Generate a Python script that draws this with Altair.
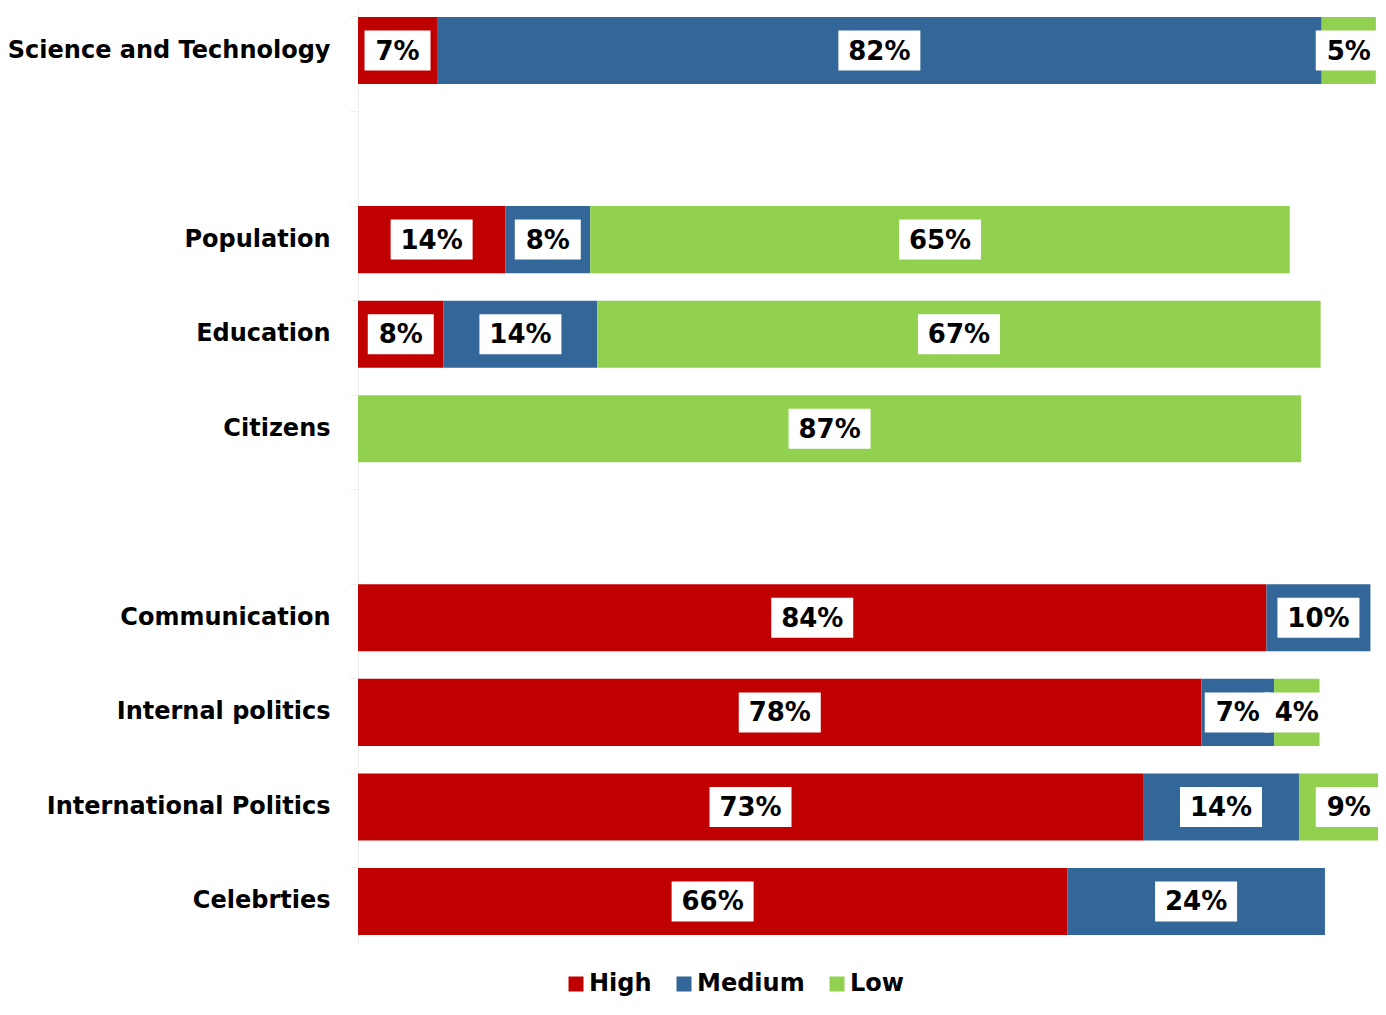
import altair as alt
import pandas as pd

rows = ["Science and Technology", " ", "Population", "Education", "Citizens", "  ",
        "Communication", "Internal politics", "International Politics", "Celebrties"]
categories = ["Science and Technology", "Population", "Education", "Citizens",
              "Communication", "Internal politics", "International Politics", "Celebrties"]
levels = ["High", "Medium", "Low"]
colors = ["#C00000", "#336699", "#92D050"]

high = [7.3, 13.6, 7.9, 0, 83.9, 77.9, 72.5, 65.5]
medium = [81.7, 7.85, 14.2, 0, 9.6, 6.7, 14.4, 23.8]
low = [5.0, 64.6, 66.8, 87.1, 0, 4.2, 9.2, 0]
high_lbl = ["7%", "14%", "8%", "", "84%", "78%", "73%", "66%"]
medium_lbl = ["82%", "8%", "14%", "", "10%", "7%", "14%", "24%"]
low_lbl = ["5%", "65%", "67%", "87%", "", "4%", "9%", ""]

recs = []
for i, c in enumerate(categories):
    for j, (vals, lbls) in enumerate([(high, high_lbl), (medium, medium_lbl), (low, low_lbl)]):
        if vals[i] > 0:
            recs.append({"cat": c, "level": levels[j], "order": j, "value": vals[i],
                         "label": lbls[i], "box": "short" if len(lbls[i]) <= 2 else "long"})
df = pd.DataFrame(recs)

FONT = "DejaVu Sans"
XMAX = 94.2

yenc = alt.Y("cat:N", sort=rows,
             scale=alt.Scale(domain=rows, paddingInner=0.291, paddingOuter=0.095),
             axis=alt.Axis(title=None, labelFont=FONT, labelFontSize=24, labelFontWeight="bold",
                           labelColor="#000000", labelPadding=20, bandPosition=0,
                           tickColor="#eeeeee", tickSize=8, domainColor="#eeeeee",
                           labelLimit=400, minExtent=350, maxExtent=350))

base = alt.Chart(df).transform_stack(
    stack="value", groupby=["cat"], as_=["v0", "v1"], sort=[alt.SortField("order")]
).transform_calculate(mid="(datum.v0 + datum.v1) / 2")

xscale = alt.Scale(domain=[0, XMAX], nice=False, zero=True)

bars = base.mark_bar(clip=True).encode(
    x=alt.X("v0:Q", scale=xscale, axis=None),
    x2="v1:Q",
    y=yenc,
    color=alt.Color("level:N", scale=alt.Scale(domain=levels, range=colors),
                    legend=alt.Legend(title=None, orient="none", legendX=206, legendY=964,
                                      direction="horizontal", symbolType="square",
                                      symbolSize=225, symbolStrokeWidth=0,
                                      labelFont=FONT, labelFontSize=24, labelFontWeight="bold",
                                      labelColor="#000000", labelOffset=1, columnPadding=20,
                                      padding=0)),
)

boxes = base.mark_point(filled=True, opacity=1, color="white", strokeWidth=0, size=6724).encode(
    x=alt.X("mid:Q", scale=xscale),
    y=alt.Y("cat:N", sort=rows),
    shape=alt.Shape("box:N", scale=alt.Scale(
        domain=["short", "long"],
        range=["M-0.805,-0.4878L0.805,-0.4878L0.805,0.4878L-0.805,0.4878Z",
               "M-1,-0.4878L1,-0.4878L1,0.4878L-1,0.4878Z"]), legend=None),
)

texts = base.mark_text(font=FONT, fontSize=26, fontWeight="bold", color="black",
                       align="center", baseline="middle", dy=1).encode(
    x=alt.X("mid:Q", scale=xscale),
    y=alt.Y("cat:N", sort=rows),
    text="label:N",
)

chart = alt.layer(bars, boxes, texts).properties(
    width=1020, height=936,
    autosize=alt.AutoSizeParams(type="none"),
    padding={"left": 350, "top": 0, "right": 0, "bottom": 61},
).configure(background="white").configure_view(stroke=None, strokeWidth=0)

chart.save("out.html", embed_options={"renderer": "svg", "actions": False})
